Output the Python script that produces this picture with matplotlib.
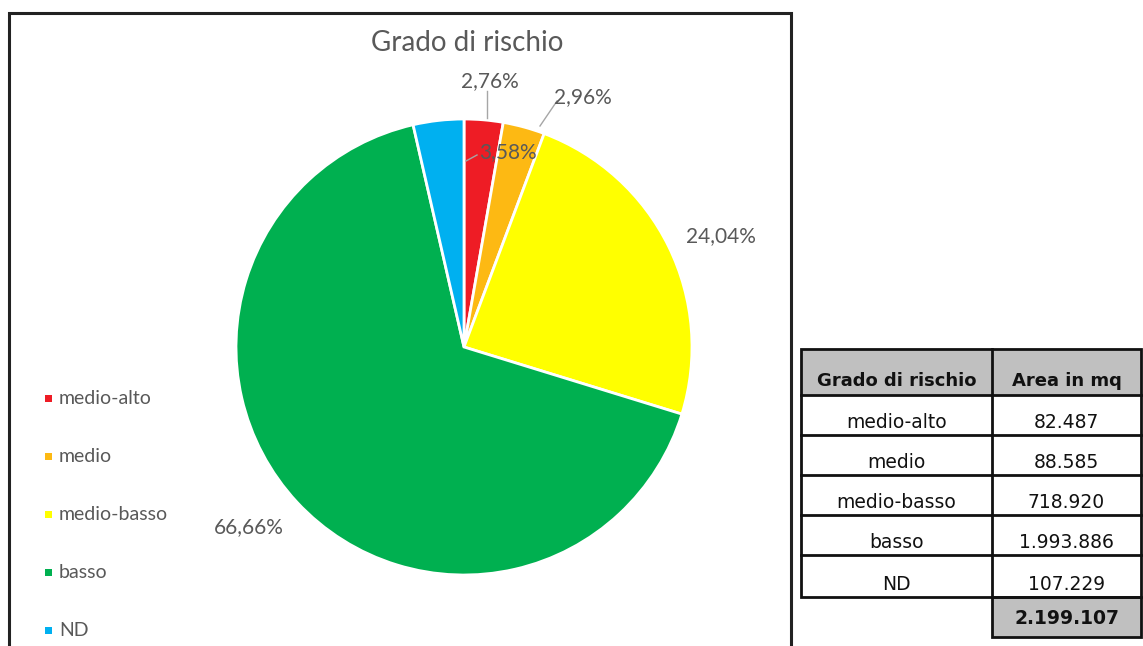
import matplotlib
matplotlib.use("Agg")
import matplotlib.pyplot as plt
from matplotlib.patches import Rectangle
import numpy as np

# ---- data ----
categories = ["medio-alto", "medio", "medio-basso", "basso", "ND"]
areas = [82487, 88585, 718920, 1993886, 107229]
area_labels = ["82.487", "88.585", "718.920", "1.993.886", "107.229"]
total_label = "2.199.107"
colors = ["#EE1C25", "#FDB913", "#FFFF00", "#00B050", "#00B0F0"]

W, H = 1143, 646
fig = plt.figure(figsize=(W / 100, H / 100), dpi=100)
fig.patch.set_facecolor("white")

def fx(px):
    return px / W

def fy(py):
    return 1 - py / H

# chart border
fig.patches.append(Rectangle((fx(8.5), fy(700)), fx(790.5) - fx(8.5), fy(12.5) - fy(700),
                             transform=fig.transFigure, fill=False, edgecolor="#222222",
                             linewidth=2.2, zorder=0))

# pie axes
cx, cy, R = 464, 347, 228
ax = fig.add_axes([fx(cx - R), fy(cy + R), 2 * R / W, 2 * R / H])
wedges, _ = ax.pie(areas, colors=colors, startangle=90, counterclock=False, radius=1,
                   wedgeprops=dict(edgecolor="white", linewidth=2))
ax.set_xlim(-1, 1)
ax.set_ylim(-1, 1)
ax.set_axis_off()

gray = "#595959"
font = "Lato"
total = sum(areas)
pcts = [a / total * 100 for a in areas]
# label text positions (pixels) and leader line points
label_pos = [(490, 81), (583, 97), (721, 236), (249, 527), (508, 152)]
leaders = [
    [(487, 118), (487, 91)],
    [(540, 126), (557, 101)],
    None,
    None,
    [(466, 161), (477, 155)],
]
def to_d(p):
    return ((p[0] - cx) / R, -(p[1] - cy) / R)

for i, p in enumerate(pcts):
    txt = f"{p:.2f}%".replace(".", ",")
    x, y = to_d(label_pos[i])
    ax.text(x, y, txt, ha="center", va="center", fontsize=15, color=gray, family=font,
            clip_on=False)
    if leaders[i] is not None:
        a, b = to_d(leaders[i][0]), to_d(leaders[i][1])
        ax.plot([a[0], b[0]], [a[1], b[1]], color="#A6A6A6", lw=1.0, clip_on=False)

fig.text(fx(467), fy(43), "Grado di rischio", ha="center", va="center", fontsize=20,
         color=gray, family=font)

# legend
leg_y = [398, 456, 514, 572, 630]
for c, name, y in zip(colors, categories, leg_y):
    fig.patches.append(Rectangle((fx(45), fy(y + 3.5)), 7 / W, 7 / H, transform=fig.transFigure,
                                 facecolor=c, edgecolor="none"))
    fig.text(fx(59), fy(y), name, ha="left", va="center", fontsize=14, color=gray, family=font)

# table
tx0, tx1, tx2 = 801, 992, 1141
rows_y = [349, 395, 435, 475, 515, 555, 597]
lw = 2
hdr_gray = "#C0C0C0"
fig.patches.append(Rectangle((fx(tx0), fy(rows_y[1])), fx(tx2) - fx(tx0), fy(rows_y[0]) - fy(rows_y[1]),
                             transform=fig.transFigure, facecolor=hdr_gray, edgecolor="none"))
fig.patches.append(Rectangle((fx(tx1), fy(637)), fx(tx2) - fx(tx1), fy(597) - fy(637),
                             transform=fig.transFigure, facecolor=hdr_gray, edgecolor="#111111",
                             linewidth=lw))
fig.patches.append(Rectangle((fx(tx0), fy(rows_y[-1])), fx(tx2) - fx(tx0), fy(rows_y[0]) - fy(rows_y[-1]),
                             transform=fig.transFigure, fill=False, edgecolor="#111111", linewidth=lw))
for y in rows_y[1:-1]:
    fig.add_artist(plt.Line2D([fx(tx0), fx(tx2)], [fy(y), fy(y)], transform=fig.transFigure,
                              color="#111111", lw=lw))
fig.add_artist(plt.Line2D([fx(tx1), fx(tx1)], [fy(rows_y[0]), fy(rows_y[-1])], transform=fig.transFigure,
                          color="#111111", lw=lw))

tfont = "DejaVu Sans"
fig.text(fx((tx0 + tx1) / 2), fy(381), "Grado di rischio", ha="center", va="center",
         fontsize=13, fontweight="bold", family=tfont, color="#111111")
fig.text(fx((tx1 + tx2) / 2), fy(381), "Area in mq", ha="center", va="center",
         fontsize=13, fontweight="bold", family=tfont, color="#111111")
for i, (name, val) in enumerate(zip(categories, area_labels)):
    yb = rows_y[i + 2]
    fig.text(fx((tx0 + tx1) / 2), fy(yb - 13), name, ha="center", va="center",
             fontsize=13.5, family=tfont, color="#111111")
    fig.text(fx((tx1 + tx2) / 2), fy(yb - 13), val, ha="center", va="center",
             fontsize=13.5, family=tfont, color="#111111")
fig.text(fx((tx1 + tx2) / 2), fy(618), total_label, ha="center", va="center",
         fontsize=13.5, fontweight="bold", family=tfont, color="#111111")

fig.savefig("out.png", dpi=100)
